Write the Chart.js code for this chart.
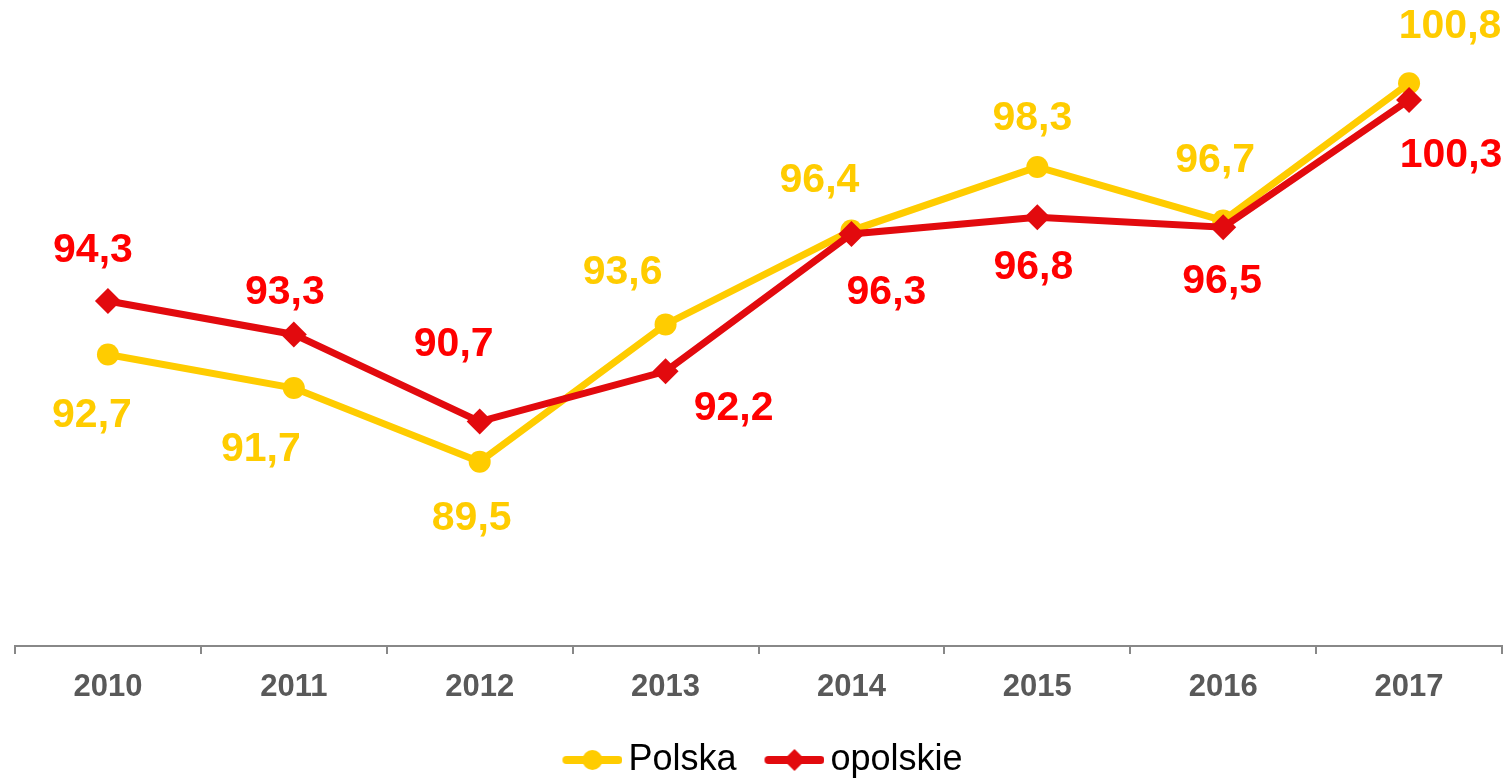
<!DOCTYPE html>
<html>
<head>
<meta charset="utf-8">
<title>Polska / opolskie</title>
<script src="https://cdn.jsdelivr.net/npm/chart.js@4.4.1/dist/chart.umd.min.js"></script>
<style>
  html, body { margin: 0; padding: 0; background: #fff; }
  #wrap { width: 1508px; height: 781px; }
</style>
</head>
<body>
<div id="wrap"><canvas id="lineChart" width="1508" height="781"></canvas></div>
<script>
// data
const years = ["2010", "2011", "2012", "2013", "2014", "2015", "2016", "2017"];
const polska = [92.7, 91.7, 89.5, 93.6, 96.4, 98.3, 96.7, 100.8];
const opolskie = [94.3, 93.3, 90.7, 92.2, 96.3, 96.8, 96.5, 100.3];

const YELLOW = "#FFCC00";
const RED_LINE = "#E20A0E";
const RED_TEXT = "#FF0000";
const FONT = '"Liberation Sans", Arial, sans-serif';

// where each value label sits relative to its point (px)
const polskaShift = [[-16, 61], [-33, 62], [-8, 57], [-43, -52], [-32, -50], [-5, -48], [-8, -60], [41, -57]];
const opolskieShift = [[-15, -50], [-9, -42], [-26, -77], [68, 37], [35, 59], [-4, 50], [-1, 54], [42, 56]];

// legend swatch: line with the marker in the middle
function swatch(color, shape) {
  const c = document.createElement("canvas");
  c.width = 80;
  c.height = 24;
  const g = c.getContext("2d");
  g.strokeStyle = color;
  g.fillStyle = color;
  g.lineWidth = 8;
  g.lineCap = "round";
  g.beginPath();
  g.moveTo(24, 12);
  g.lineTo(76, 12);
  g.stroke();
  g.beginPath();
  if (shape === "circle") {
    g.arc(50, 12, 10, 0, Math.PI * 2);
  } else {
    g.moveTo(50, 1); g.lineTo(61, 12); g.lineTo(50, 23); g.lineTo(39, 12); g.closePath();
  }
  g.fill();
  return c;
}
const swatches = [swatch(YELLOW, "circle"), swatch(RED_LINE, "diamond")];

// value labels (comma decimals)
const valueLabels = {
  id: "valueLabels",
  afterDatasetsDraw(chart) {
    const ctx = chart.ctx;
    chart.data.datasets.forEach((ds, di) => {
      const meta = chart.getDatasetMeta(di);
      ctx.save();
      ctx.font = "bold 41px " + FONT;
      ctx.fillStyle = ds.labelColor;
      ctx.textAlign = "center";
      ctx.textBaseline = "middle";
      meta.data.forEach((pt, i) => {
        const [dx, dy] = ds.labelShift[i];
        ctx.fillText(ds.data[i].toFixed(1).replace(".", ","), pt.x + dx, pt.y + dy);
      });
      ctx.restore();
    });
  }
};

const ctx = document.getElementById("lineChart").getContext("2d");
new Chart(ctx, {
  type: "line",
  data: {
    labels: years,
    datasets: [
      {
        label: "Polska",
        data: polska,
        borderColor: YELLOW,
        backgroundColor: YELLOW,
        borderWidth: 7,
        pointStyle: "circle",
        pointRadius: 11,
        pointBorderWidth: 0,
        tension: 0,
        order: 2,
        labelColor: YELLOW,
        labelShift: polskaShift
      },
      {
        label: "opolskie",
        data: opolskie,
        borderColor: RED_LINE,
        backgroundColor: RED_LINE,
        borderWidth: 7,
        pointStyle: "rectRot",
        pointRadius: 13,
        pointBorderWidth: 0,
        tension: 0,
        order: 1,
        labelColor: RED_TEXT,
        labelShift: opolskieShift
      }
    ]
  },
  options: {
    responsive: false,
    animation: false,
    layout: { autoPadding: false, padding: { top: 43, left: 15, right: 6, bottom: -7 } },
    plugins: {
      tooltip: { enabled: false },
      legend: {
        position: "bottom",
        labels: {
          usePointStyle: true,
          pointStyleWidth: 56,
          padding: 20,
          color: "#000",
          font: { family: FONT, size: 36 },
          generateLabels(chart) {
            const items = Chart.defaults.plugins.legend.labels.generateLabels(chart);
            items.forEach(it => { it.pointStyle = swatches[it.datasetIndex]; });
            return items;
          },
          sort: (a, b) => a.datasetIndex - b.datasetIndex
        }
      }
    },
    scales: {
      x: {
        offset: true,
        border: { display: true, color: "#888", width: 2 },
        grid: { display: true, offset: true, drawOnChartArea: false, drawTicks: true, tickLength: 8, color: "#888", lineWidth: 2 },
        ticks: { color: "#595959", padding: 15, font: { family: FONT, size: 31, weight: "bold" } },
        afterFit(scale) { scale.height = 76; }
      },
      y: {
        display: false,
        min: 84,
        max: 102
      }
    }
  },
  plugins: [valueLabels]
});
</script>
</body>
</html>
